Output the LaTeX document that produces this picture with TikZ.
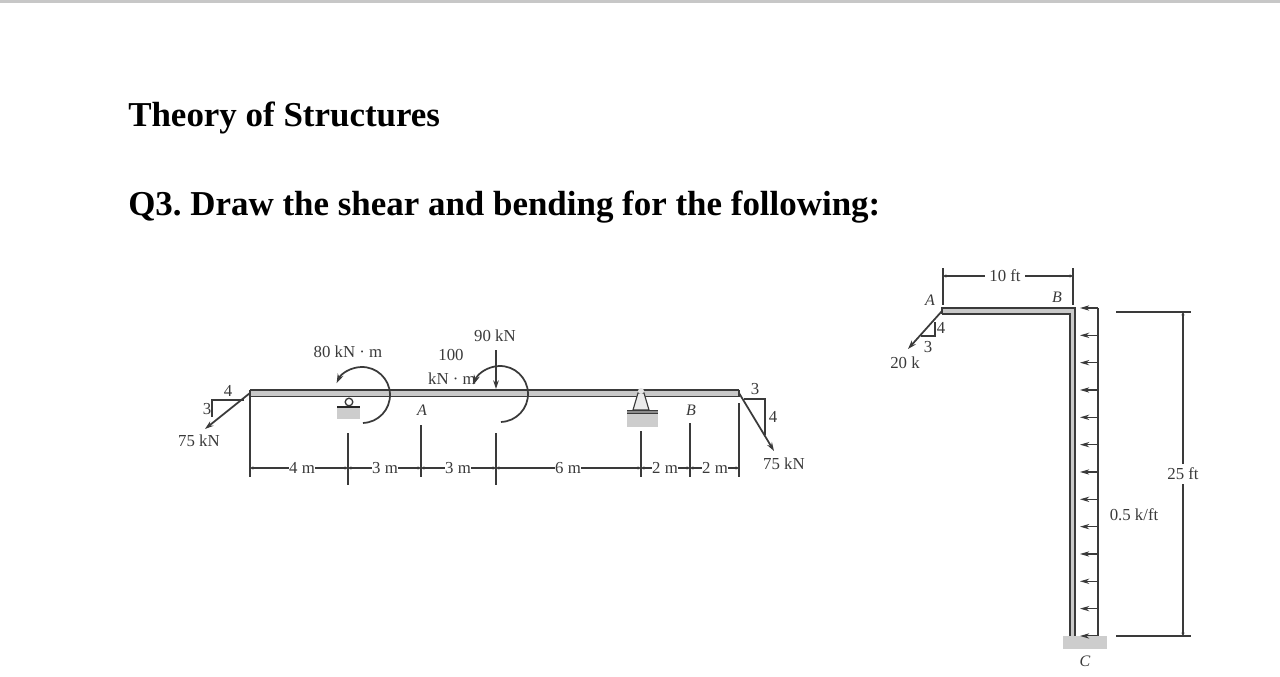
\documentclass[tikz,border=0pt]{standalone}
\usepackage{fontspec}
\setmainfont{Liberation Serif}
\usetikzlibrary{arrows.meta}
\frenchspacing
\definecolor{ink}{HTML}{3A3A3A}
\definecolor{member}{HTML}{C9C9C9}
\definecolor{ground}{HTML}{CDCDCD}
\tikzset{
  x=0.75pt,y=-0.75pt,
  title/.style={font=\bfseries\fontsize{26.2}{30}\selectfont,anchor=west,inner sep=0pt,text=black},
  lab/.style={font=\fontsize{12.6}{14}\selectfont,inner sep=0.6pt,text=ink},
  ilab/.style={lab,font=\itshape\fontsize{12}{14}\selectfont},
  dimlab/.style={lab,fill=white,inner xsep=0.4pt,inner ysep=0pt},
  thin line/.style={draw=ink,line width=0.85pt},
  mem line/.style={draw=ink,line width=1.3pt},
  load/.style={draw=ink,line width=1.3pt,-{Stealth[length=6.5pt,width=4.2pt]}},
  udl/.style={draw=ink,line width=0.8pt,-{Stealth[length=7pt,width=4pt]}},
  moment/.style={draw=ink,line width=1.3pt,-{Stealth[length=7pt,width=4.6pt]}},
  dimarrow/.style={draw=ink,line width=0.8pt,{Stealth[length=2.5pt,width=2.4pt]}-{Stealth[length=2.5pt,width=2.4pt]}},
}
\begin{document}
\begin{tikzpicture}
\useasboundingbox (0,0) rectangle (1280,677);
\fill[white] (0,0) rectangle (1280,677);
\fill[black!22] (0,0) rectangle (1280,3);

\node[title] (t1) at (128,118) {Theory of Structures};
\node[title] (t2) at (128,207) {Q3. Draw the shear and bending for the following:};

% ---------- beam ----------
\coordinate (bl) at (250,393);
\coordinate (br) at (739,393);
\fill[member] (250,390) rectangle (739,396.5);
\draw[mem line] (250,390) -- (739,390);
\draw[mem line] (250,396.5) -- (739,396.5);
\draw[mem line] (250,390) -- (250,396.5);
\draw[mem line] (739,390) -- (739,396.5);

% roller support
\fill[ground] (337,407) rectangle (360,419);
\draw[draw=ink,line width=1pt] (349,402) circle[radius=3.8];
\draw[draw=black!85,line width=2.2pt] (337,407) -- (360,407);

% pin support
\fill[ground] (627,413) rectangle (658,427);
\draw[thin line,fill=black!8] (638,393) -- (633,410) -- (649,410) -- (644,393) -- cycle;
\fill[black!10] (641,391) circle[radius=3];
\fill[ink] (627,410) rectangle (658,414);
\fill[black!45] (627,411) rectangle (658,413);

% left load
\coordinate (ll) at (205,429);
\draw[load] (bl) -- (ll);
\draw[thin line] (244,400) -- (212,400) -- (212,417);
\node[lab] (l4) at (228,391) {4};
\node[lab] (l3) at (207,409) {3};
\node[lab] (l75) at (199,441) {75 kN};

% right load
\coordinate (rl) at (774,451);
\draw[load] (br) -- (rl);
\draw[thin line] (744,399) -- (765,399) -- (765,435);
\node[lab] (r3) at (755,389) {3};
\node[lab] (r4) at (773,417) {4};
\node[lab] (r75) at (784,464) {75 kN};

% 90 kN
\coordinate (p90a) at (496,350);
\coordinate (p90b) at (496,389);
\draw[load,line width=0.9pt] (p90a) -- (p90b);
\node[lab] (l90) at (495,336) {90 kN};

% moments
\coordinate (m1) at (362,395);
\coordinate (m2) at (500,394);
\draw[moment] (m1) ++(-88:21pt) arc[start angle=-88,end angle=155,radius=21pt];
\draw[moment] (m2) ++(-88:21pt) arc[start angle=-88,end angle=160,radius=21pt];
\node[lab] (ml1) at (348,352) {80 kN · m};
\node[lab] (ml2a) at (451,355) {100};
\node[lab] (ml2b) at (452,379) {kN · m};

\node[ilab] (A1) at (422,410) {A};
\node[ilab] (B1) at (691,410) {B};

% ticks
\draw[thin line] (250,397) -- (250,477);
\draw[thin line] (348,433) -- (348,485);
\draw[thin line] (421,425) -- (421,477);
\draw[thin line] (496,433) -- (496,485);
\draw[thin line] (641,431) -- (641,477);
\draw[thin line] (690,423) -- (690,477);
\draw[thin line] (739,403) -- (739,477);

% dimension chain
\foreach \a/\b/\t/\c/\n in {250/348/4 m/302/a,348/421/3 m/385/b,421/496/3 m/458/c,496/641/6 m/568/d,641/690/2 m/665/e,690/739/2 m/715/f}{
  \draw[dimarrow] (\a,468) -- (\b,468);
  \node[dimlab] (dim\n) at (\c,468) {\t};
}

% ---------- frame ----------
\fill[member] (942,308) -- (1075,308) -- (1075,636) -- (1070,636) -- (1070,314) -- (942,314) -- cycle;
\draw[mem line] (942,314) -- (942,308) -- (1075,308) -- (1075,636);
\draw[mem line] (942,314) -- (1070,314) -- (1070,636);
\fill[ground] (1063,636) rectangle (1107,649);
\node[ilab] (C) at (1085,661) {C};
\node[ilab] (A2) at (930,300) {A};
\node[ilab] (B2) at (1057,297) {B};

% 20 k
\coordinate (fa) at (942,311);
\coordinate (fb) at (908,349);
\draw[load] (fa) -- (fb);
\draw[thin line] (935,322) -- (935,336) -- (921,336);
\node[lab] (f4) at (941,328) {4};
\node[lab] (f3) at (928,347) {3};
\node[lab] (f20) at (905,363) {20 k};

% 10 ft
\draw[thin line] (943,268) -- (943,305);
\draw[thin line] (1073,268) -- (1073,305);
\draw[dimarrow] (943,276) -- (1073,276);
\node[dimlab,inner xsep=3pt] (d10) at (1005,276) {10 ft};

% distributed load
\draw[thin line] (1098,308) -- (1098,636);
\foreach \i in {0,...,12}{
  \pgfmathsetmacro{\yy}{308+\i*27.33}
  \draw[udl] (1098,\yy) -- (1080,\yy);
}
\node[lab] (w) at (1134,515) {0.5 k/ft};

% 25 ft
\draw[thin line] (1116,312) -- (1191,312);
\draw[thin line] (1116,636) -- (1191,636);
\draw[dimarrow] (1183,312) -- (1183,636);
\node[dimlab,inner ysep=3pt] (d25) at (1183,474) {25 ft};
\end{tikzpicture}
\end{document}
